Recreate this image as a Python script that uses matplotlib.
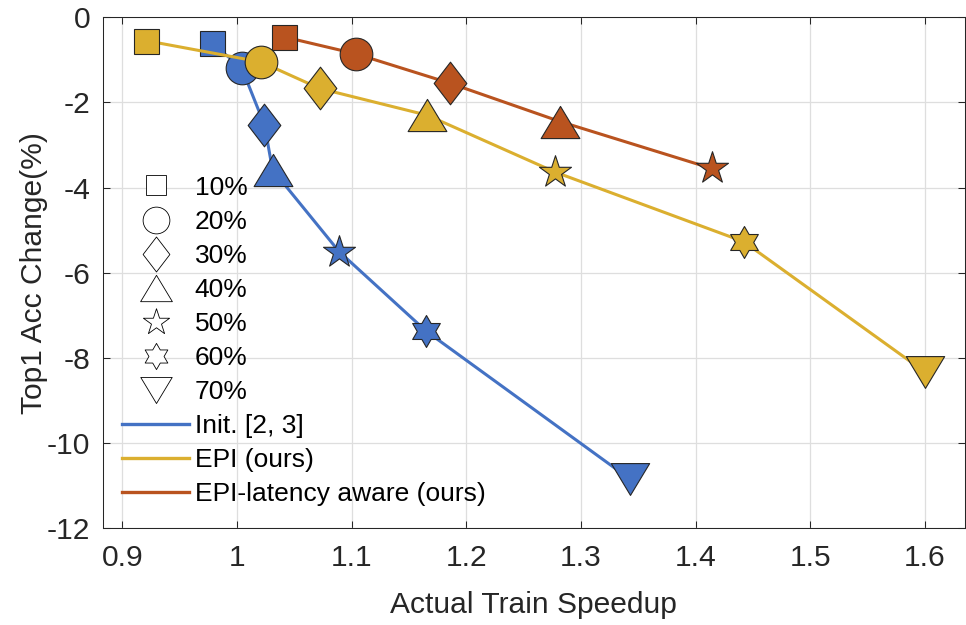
import numpy as np
import matplotlib.pyplot as plt
from matplotlib.path import Path
from matplotlib.lines import Line2D

plt.rcParams['font.family'] = ['Liberation Sans', 'DejaVu Sans']
plt.rcParams['axes.unicode_minus'] = False

# pruning ratios (one marker shape per ratio)
ratios = ['10%', '20%', '30%', '40%', '50%', '60%', '70%']

init_speedup = [0.978, 1.004, 1.024, 1.031, 1.089, 1.165, 1.343]
init_acc = [-0.61, -1.18, -2.53, -3.58, -5.50, -7.37, -10.85]

epi_speedup = [0.921, 1.021, 1.072, 1.166, 1.277, 1.442, 1.600]
epi_acc = [-0.55, -1.05, -1.67, -2.30, -3.63, -5.27, -8.33]

lat_speedup = [1.041, 1.104, 1.186, 1.282, 1.414]
lat_acc = [-0.46, -0.86, -1.55, -2.45, -3.55]

series_names = ['Init. [2, 3]', 'EPI (ours)', 'EPI-latency aware (ours)']
colors = ['#4472C4', '#DBAF2F', '#B9531F']

# MATLAB-like marker shapes
h = 0.83
tri_up = Path([(-1, -h), (1, -h), (0, h), (-1, -h)], closed=True)
tri_down = Path([(-1, h), (1, h), (0, -h), (-1, h)], closed=True)
diamond = Path([(0, 1), (0.766, 0), (0, -1), (-0.766, 0), (0, 1)], closed=True)
star5 = Path.unit_regular_star(5, 0.381966)
star6 = Path.unit_regular_star(6, 0.577)

markers = ['s', 'o', diamond, tri_up, star5, star6, tri_down]
msizes = [18, 23.5, 30.7, 27.9, 24.2, 23, 27.6]

fig = plt.figure(figsize=(9.66, 6.25), dpi=100)
W, H = 966, 625
ax = fig.add_axes([102.7 / W, (H - 528.3) / H, (965 - 102.7) / W, (528.3 - 17.3) / H])

data = [(init_speedup, init_acc), (epi_speedup, epi_acc), (lat_speedup, lat_acc)]
for k, (xs, ys) in enumerate(data):
    z = 2 + k
    ax.plot(xs, ys, color=colors[k], lw=2.2, zorder=z)
    for i in range(len(xs)):
        ax.plot(xs[i], ys[i], ls='none', marker=markers[i], ms=msizes[i],
                mfc=colors[k], mec='#262626', mew=0.8, zorder=z + 0.5)

ax.set_xlim(0.8829, 1.6349)
ax.set_ylim(-12, 0)
xt = [0.9, 1.0, 1.1, 1.2, 1.3, 1.4, 1.5, 1.6]
ax.set_xticks(xt)
ax.set_xticklabels(['0.9', '1', '1.1', '1.2', '1.3', '1.4', '1.5', '1.6'])
yt = [-12, -10, -8, -6, -4, -2, 0]
ax.set_yticks(yt)
ax.set_yticklabels([str(v) for v in yt])

ax.grid(True, color='#dedede', lw=0.9)
ax.set_axisbelow(True)
for sp in ax.spines.values():
    sp.set_color('#262626')
    sp.set_linewidth(0.75)
ax.tick_params(direction='in', length=4.8, width=0.75, top=True, right=True,
               colors='#262626', labelsize=21.6)
ax.tick_params(axis='x', pad=11)
ax.tick_params(axis='y', pad=9)

ax.set_xlabel('Actual Train Speedup', fontsize=21.6, color='#262626', labelpad=14)
ax.set_ylabel('Top1 Acc Change(%)', fontsize=21.6, color='#262626')
ax.yaxis.set_label_coords(-0.064, 0.5)

# legend: marker shapes for ratios, then lines for methods
handles = []
for i in range(len(ratios)):
    handles.append(Line2D([], [], ls='none', marker=markers[i], ms=msizes[i] * 0.82,
                          mfc='white', mec='black', mew=0.6))
for k in range(3):
    handles.append(Line2D([], [], color=colors[k], lw=2.4))
labels = ratios + series_names
leg = ax.legend(handles, labels, loc='upper left', bbox_to_anchor=(0.0224, 0.69),
                frameon=False, fontsize=19, handlelength=2.55, handletextpad=0.2,
                labelspacing=0.38, borderpad=0, borderaxespad=0, numpoints=1)
leg.set_zorder(10)

fig.savefig('out.png', dpi=100)
